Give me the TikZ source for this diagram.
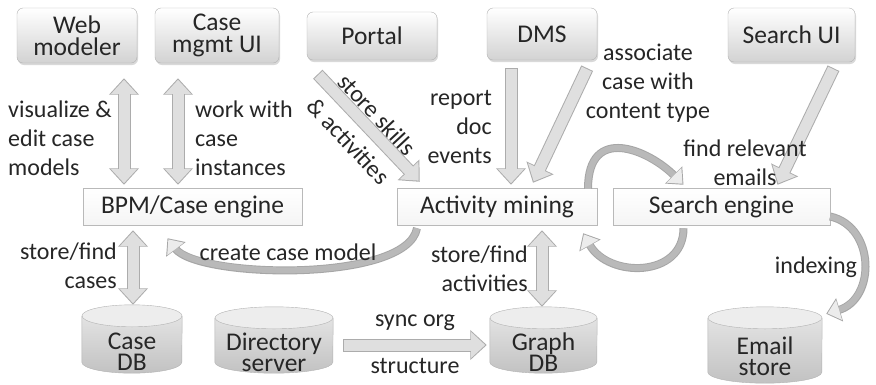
\documentclass[tikz,border=0pt]{standalone}
\usepackage{fontspec}
\setmainfont{Carlito}
\usepackage{tikz}
\usetikzlibrary{arrows.meta,shadows}

\tikzset{
  src/.style={draw=gray!60, rounded corners=6pt, top color=white, bottom color=gray!35,
    drop shadow={opacity=0.3,shadow xshift=1pt,shadow yshift=-2pt},
    align=center, inner sep=0pt, text=black!85, font=\fontsize{25.5}{22}\selectfont},
  eng/.style={draw=gray!55, top color=white, bottom color=gray!8, minimum height=37pt,
    inner sep=0pt, text=black!85, font=\fontsize{25.5}{22}\selectfont},
  db/.style={inner sep=0pt},
  dbtxt/.style={align=center, inner sep=0pt, text=black!85, font=\fontsize{25.5}{21}\selectfont},
  lbl/.style={font=\fontsize{24}{29}\selectfont, inner sep=0pt, text=black!85},
  fat/.style={draw=gray!25, line width=11pt, shorten <=1pt, shorten >=1.6pt,
    -{Triangle[width=25pt,length=14pt]},
    preaction={draw=gray!65, line width=13pt, shorten <=0pt, shorten >=0pt,
      -{Triangle[width=29pt,length=16.5pt]}}},
  fatboth/.style={draw=gray!25, line width=11pt, shorten <=1.6pt, shorten >=1.6pt,
    {Triangle[width=25pt,length=14pt]}-{Triangle[width=25pt,length=14pt]},
    preaction={draw=gray!65, line width=13pt, shorten <=0pt, shorten >=0pt,
      {Triangle[width=29pt,length=16.5pt]}-{Triangle[width=29pt,length=16.5pt]}}},
  curvarr/.style={draw=gray!55, line width=6pt, shorten >=1.4pt,
    -{Triangle[width=20pt,length=12pt,color=gray!15]},
    preaction={draw=gray!70, line width=8pt, shorten >=0pt,
      -{Triangle[width=23.5pt,length=14pt]}}},
}

\begin{document}
\begin{tikzpicture}[x=1pt,y=-1pt]
\useasboundingbox (0,0) rectangle (876,384);

% front ends
\node[src, minimum width=120pt, minimum height=55pt] (web) at (77,35.5) {Web\\modeler};
\node[src, minimum width=124pt, minimum height=55pt] (cmui) at (217,35.5) {Case\\mgmt UI};
\node[src, minimum width=130pt, minimum height=48pt] (portal) at (372,36) {Portal};
\node[src, minimum width=110pt, minimum height=52pt] (dms) at (542,34) {DMS};
\node[src, minimum width=127pt, minimum height=54pt] (sui) at (791.5,35) {Search UI};

% engines
\node[eng, minimum width=219pt] (bpm) at (192.5,206.5) {BPM/Case engine};
\node[eng, minimum width=200pt] (act) at (497,206.5) {Activity mining};
\node[eng, minimum width=217pt] (se) at (721.5,206.5) {Search engine};

% stores (cylinders drawn round the nodes)
\node[db, minimum width=100pt, minimum height=68pt] (cdb) at (132,339) {};
\node[db, minimum width=118pt, minimum height=66pt] (dir) at (274,340) {};
\node[db, minimum width=107pt, minimum height=66pt] (gdb) at (543.5,340) {};
\node[db, minimum width=114pt, minimum height=76pt] (em) at (765,345) {};
\foreach \n/\r in {cdb/50,dir/59,gdb/53.5,em/57} {
  \path[top color=gray!22, bottom color=gray!48]
    ([yshift=-11pt]\n.north west) -- ([yshift=11pt]\n.south west)
    arc[start angle=180, end angle=360, x radius=\r pt, y radius=11pt]
    -- ([yshift=-11pt]\n.north east) -- cycle;
  \draw[gray!60] ([yshift=-11pt]\n.north west) -- ([yshift=11pt]\n.south west)
    arc[start angle=180, end angle=360, x radius=\r pt, y radius=11pt]
    -- ([yshift=-11pt]\n.north east);
  \draw[gray!60, fill=gray!14] ([yshift=-11pt]\n.north) ellipse[x radius=\r pt, y radius=11pt];
}
\node[dbtxt] (cdbt) at ([yshift=-13pt]cdb.center) {Case\\DB};
\node[dbtxt] (dirt) at ([yshift=-12pt]dir.center) {Directory\\server};
\node[dbtxt] (gdbt) at ([yshift=-12pt]gdb.center) {Graph\\DB};
\node[dbtxt] (emt) at ([yshift=-11pt]em.center) {Email\\store};

% front ends to engines
\draw[fatboth] ([xshift=47pt,yshift=-15pt]web.south) -- ([xshift=-68.5pt,yshift=3pt]bpm.north);
\draw[fatboth] ([xshift=-39pt,yshift=-15pt]cmui.south) -- ([xshift=-14.5pt,yshift=3pt]bpm.north);
\draw[fat] ([xshift=11pt,yshift=-14pt]portal.south west) -- ([xshift=23pt,yshift=6pt]act.north west);
\draw[fat] ([xshift=-31pt,yshift=-8pt]dms.south) -- ([xshift=14pt,yshift=3pt]act.north);
\draw[fat] ([xshift=-10pt,yshift=-8pt]dms.south east) -- ([xshift=36pt,yshift=5pt]act.north);
\draw[fat] ([xshift=42pt,yshift=-6pt]sui.south) -- ([xshift=56pt,yshift=3pt]se.north);

% engines to stores
\draw[fatboth] ([xshift=-59.5pt,yshift=-5pt]bpm.south) -- ([xshift=1pt]cdb.north);
\draw[fatboth] ([xshift=45pt,yshift=-5pt]act.south) -- ([xshift=-1.5pt]gdb.north);
\draw[fat] ([xshift=10pt,yshift=-5pt]dir.east) -- ([xshift=-3pt,yshift=-5pt]gdb.west)
  node[lbl, midway, above=9pt] {sync org}
  node[lbl, midway, below=8pt] {structure};

% curved flows
\draw[curvarr] ([xshift=-80pt,yshift=-3pt]act.south) .. controls +(-10,55) and +(30,40) .. ([xshift=-25pt,yshift=-13pt]bpm.south);
\draw[curvarr] ([xshift=91pt,yshift=-1pt]act.north) .. controls +(0,-65) and +(-35,-35) .. ([xshift=-38pt,yshift=3pt]se.north);
\draw[curvarr] ([xshift=-38pt,yshift=-3pt]se.south) .. controls +(0,50) and +(25,45) .. ([xshift=-14pt,yshift=-8pt]act.south east);
\draw[curvarr] ([yshift=-10pt]se.east) .. controls +(45,10) and +(50,-15) .. ([xshift=4pt,yshift=-7pt]em.north east);

% labels
\node[lbl, align=left, anchor=west] (l1) at (8,138) {visualize \&\\edit case\\models};
\node[lbl, align=left, anchor=west] (l2) at (195,138) {work with\\case\\instances};
\node[lbl, align=center, rotate=-47] (l3) at (363,128) {store skills\\[10pt]\& activities};
\node[lbl, align=right, anchor=east] (l4) at (492,127) {report\\doc\\events};
\node[lbl, align=center] (l5) at (648,83) {associate\\case with\\content type};
\node[lbl, align=center] (l6) at (745,163) {find relevant\\emails};
\node[lbl] (l7) at (288,252) {create case model};
\node[lbl, align=right, anchor=east] (l8) at (117,266) {store/find\\cases};
\node[lbl, align=right, anchor=east] (l9) at (528,269) {store/find\\activities};
\node[lbl] (l10) at (816,267) {indexing};
\end{tikzpicture}
\end{document}
